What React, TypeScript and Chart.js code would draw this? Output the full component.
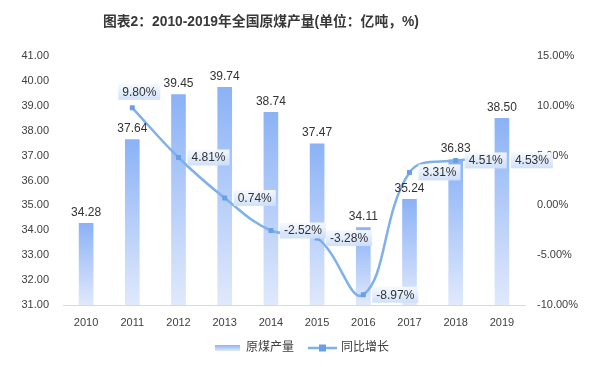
import React, { useEffect, useRef } from "react";
import { Chart, registerables } from "chart.js";

Chart.register(...registerables);

const titleText = "图表2：2010-2019年全国原煤产量(单位：亿吨，%)";
const years = ["2010", "2011", "2012", "2013", "2014", "2015", "2016", "2017", "2018", "2019"];
const output = [34.28, 37.64, 39.45, 39.74, 38.74, 37.47, 34.11, 35.24, 36.83, 38.5];
const growth: (number | null)[] = [null, 9.8, 4.81, 0.74, -2.52, -3.28, -8.97, 3.31, 4.51, 4.53];
const seriesNames = ["原煤产量", "同比增长"];
const leftMin = 31;
const leftMax = 41;
const rightMin = -10;
const rightMax = 15;

const FONT = "'Liberation Sans', 'Noto Sans CJK SC', sans-serif";
const BAR_TOP = "#8bb2f6";
const BAR_BOTTOM = "#e0e9fc";
const LINE = "#7fb0ea";
const MARK = "#6a9fe6";

const labelsPlugin = {
  id: "customLabels",
  afterDatasetsDraw(chart: any) {
    const ctx = chart.ctx;
    const barMeta = chart.getDatasetMeta(0);
    const lineMeta = chart.getDatasetMeta(1);
    ctx.save();
    ctx.font = `12px ${FONT}`;
    ctx.fillStyle = "#333";
    ctx.textAlign = "center";
    ctx.textBaseline = "bottom";
    barMeta.data.forEach((el: any, i: number) => {
      ctx.fillText(output[i].toFixed(2), el.x, el.y - 5);
    });
    lineMeta.data.forEach((el: any, i: number) => {
      const v = growth[i];
      if (v === null || v === undefined) return;
      const txt = v.toFixed(2) + "%";
      ctx.font = `12px ${FONT}`;
      const w = ctx.measureText(txt).width + 8;
      const h = 16;
      let bx: number, by: number;
      if (i === 1) {
        bx = el.x + 7 - w / 2;
        by = el.y - 8 - h;
      } else {
        bx = el.x + 9;
        by = el.y - h / 2;
      }
      const g = ctx.createLinearGradient(0, by, 0, by + h);
      g.addColorStop(0, "rgba(246,250,255,0.95)");
      g.addColorStop(1, "rgba(206,223,248,0.95)");
      ctx.fillStyle = g;
      ctx.fillRect(bx, by, w, h);
      ctx.fillStyle = "#333";
      ctx.textAlign = "center";
      ctx.textBaseline = "middle";
      ctx.fillText(txt, bx + w / 2, by + h / 2 + 0.5);
    });
    ctx.restore();
  },
  afterDraw(chart: any) {
    const ctx = chart.ctx;
    ctx.save();
    // title
    ctx.font = `bold 13.8px ${FONT}`;
    ctx.fillStyle = "#383838";
    ctx.textAlign = "left";
    ctx.textBaseline = "middle";
    ctx.fillText(titleText, 103, 22);
    // legend
    const ly = 348;
    const g = ctx.createLinearGradient(0, ly - 3, 0, ly + 3);
    g.addColorStop(0, BAR_TOP);
    g.addColorStop(1, BAR_BOTTOM);
    ctx.fillStyle = g;
    ctx.fillRect(215, ly - 3, 25, 6);
    ctx.font = `12px ${FONT}`;
    ctx.fillStyle = "#404040";
    ctx.textBaseline = "middle";
    ctx.fillText(seriesNames[0], 246, ly);
    ctx.strokeStyle = LINE;
    ctx.lineWidth = 2.5;
    ctx.beginPath();
    ctx.moveTo(308, ly);
    ctx.lineTo(337, ly);
    ctx.stroke();
    ctx.fillStyle = MARK;
    ctx.fillRect(319, ly - 3.5, 7, 7);
    ctx.fillStyle = "#404040";
    ctx.fillText(seriesNames[1], 341, ly);
    ctx.restore();
  },
};

export default function App() {
  const ref = useRef<HTMLCanvasElement | null>(null);
  useEffect(() => {
    if (!ref.current) return;
    const chart = new Chart(ref.current, {
      type: "bar",
      data: {
        labels: years,
        datasets: [
          {
            type: "bar",
            label: seriesNames[0],
            data: output,
            yAxisID: "y",
            barThickness: 14,
            order: 2,
            borderWidth: 0,
            backgroundColor: (c: any) => {
              const ch = c.chart;
              const area = ch.chartArea;
              if (!area || c.raw === undefined) return BAR_TOP;
              const top = ch.scales.y.getPixelForValue(c.raw);
              const g = ch.ctx.createLinearGradient(0, top, 0, area.bottom);
              g.addColorStop(0, BAR_TOP);
              g.addColorStop(1, BAR_BOTTOM);
              return g;
            },
          } as any,
          {
            type: "line",
            label: seriesNames[1],
            data: growth,
            yAxisID: "y1",
            order: 1,
            borderColor: LINE,
            borderWidth: 2.5,
            tension: 0.4,
            pointStyle: "rect",
            pointRadius: 3.5,
            pointBackgroundColor: MARK,
            pointBorderColor: MARK,
            pointBorderWidth: 0,
            spanGaps: true,
          } as any,
        ],
      },
      options: {
        animation: false,
        responsive: false,
        layout: { padding: { left: 10, right: 0, top: 56, bottom: 0 } },
        plugins: {
          legend: { display: false },
          title: { display: false },
          tooltip: { enabled: false },
        },
        scales: {
          x: {
            grid: { display: false, drawTicks: false },
            border: { display: true, color: "#d9d9d9" },
            ticks: { padding: 11, color: "#404040", font: { family: FONT, size: 11 } },
            afterFit: (s: any) => {
              s.height = 62;
            },
          },
          y: {
            position: "left",
            min: leftMin,
            max: leftMax,
            grid: { display: false, drawTicks: false },
            border: { display: false },
            ticks: {
              stepSize: 1,
              padding: 14,
              color: "#404040",
              font: { family: FONT, size: 11 },
              callback: (v: any) => Number(v).toFixed(2),
            },
            afterFit: (s: any) => {
              s.width = 53;
            },
          },
          y1: {
            position: "right",
            min: rightMin,
            max: rightMax,
            grid: { display: false, drawTicks: false },
            border: { display: false },
            ticks: {
              stepSize: 5,
              padding: 12,
              color: "#404040",
              font: { family: FONT, size: 11 },
              callback: (v: any) => Number(v).toFixed(2) + "%",
            },
            afterFit: (s: any) => {
              s.width = 75;
            },
          },
        },
      } as any,
      plugins: [labelsPlugin],
    });
    return () => chart.destroy();
  }, []);
  return (
    <div style={{ position: "absolute", left: 0, top: 0, width: 600, height: 367, background: "#fff" }}>
      <canvas ref={ref} width={600} height={367} style={{ display: "block", width: 600, height: 367 }} />
    </div>
  );
}
